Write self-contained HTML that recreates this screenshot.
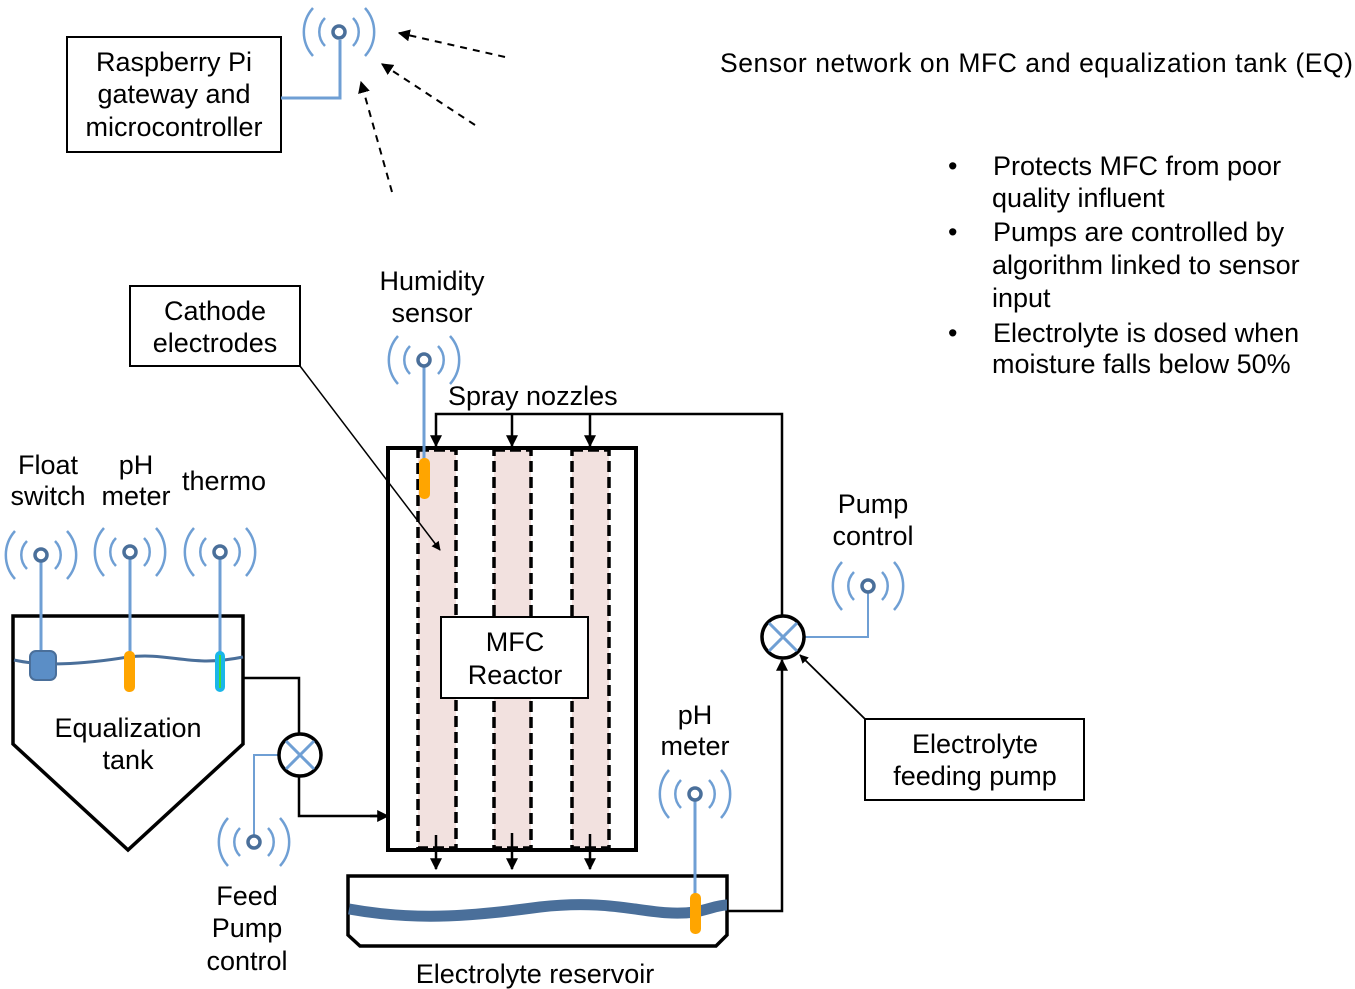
<!DOCTYPE html>
<html><head><meta charset="utf-8"><style>
html,body{margin:0;padding:0;background:#fff;}
svg{display:block;font-family:"Liberation Sans",Arial,sans-serif;}
text{fill:#000;}
</style></head><body>
<svg width="1355" height="989" viewBox="0 0 1355 989" xmlns="http://www.w3.org/2000/svg" font-size="27">
<defs>
<marker id="ah" viewBox="0 0 10 10" refX="9" refY="5" markerWidth="9" markerHeight="9" orient="auto-start-reverse" markerUnits="userSpaceOnUse"><path d="M0,0 L10,5 L0,10 z" fill="#000"/></marker>
<marker id="ah2" viewBox="0 0 10 10" refX="9" refY="5" markerWidth="12" markerHeight="12" orient="auto" markerUnits="userSpaceOnUse"><path d="M0,0 L10,5 L0,10 z" fill="#000"/></marker>
<g id="ant">
<path d="M-14,-14 A20,20 0 0 0 -14,14 M14,-14 A20,20 0 0 1 14,14 M-26,-24 A36,36 0 0 0 -26,24 M26,-24 A36,36 0 0 1 26,24" fill="none" stroke="#6f9fd4" stroke-width="2.5"/>
<circle r="6" fill="#fff" stroke="#4a6f9a" stroke-width="3.5"/>
</g>
</defs>

<!-- Raspberry Pi -->
<rect x="67" y="37" width="214" height="115" fill="#fff" stroke="#000" stroke-width="2"/>
<text x="174" y="71" text-anchor="middle">Raspberry Pi</text>
<text x="174" y="103" text-anchor="middle">gateway and</text>
<text x="174" y="136" text-anchor="middle">microcontroller</text>
<path d="M281,98 H340 V40" fill="none" stroke="#6f9fd4" stroke-width="3"/>
<use href="#ant" x="339" y="32"/>
<g stroke="#000" stroke-width="2" stroke-dasharray="7,6" fill="none">
<line x1="505" y1="57" x2="399" y2="33" marker-end="url(#ah2)"/>
<line x1="475" y1="125" x2="382" y2="64" marker-end="url(#ah2)"/>
<line x1="392" y1="192" x2="361" y2="82" marker-end="url(#ah2)"/>
</g>

<text x="720" y="72" font-size="26.5" textLength="633">Sensor network on MFC and equalization tank (EQ)</text>
<g>
<text x="948" y="175">•</text><text x="993" y="175">Protects MFC from poor</text>
<text x="992" y="207">quality influent</text>
<text x="948" y="241">•</text><text x="993" y="241">Pumps are controlled by</text>
<text x="992" y="274">algorithm linked to sensor</text>
<text x="992" y="307">input</text>
<text x="948" y="342">•</text><text x="993" y="342">Electrolyte is dosed when</text>
<text x="992" y="373">moisture falls below 50%</text>
</g>

<!-- Cathode -->
<rect x="130" y="286" width="170" height="80" fill="#fff" stroke="#000" stroke-width="2"/>
<text x="215" y="320" text-anchor="middle">Cathode</text>
<text x="215" y="352" text-anchor="middle">electrodes</text>

<!-- MFC -->
<rect x="388" y="448" width="248" height="402" fill="#fff" stroke="#000" stroke-width="4"/>
<g fill="#f2e1df" stroke="#000" stroke-width="3.5" stroke-dasharray="11,5">
<rect x="418" y="450" width="38" height="398"/>
<rect x="494" y="450" width="37" height="398"/>
<rect x="572" y="450" width="37" height="398"/>
</g>
<line x1="300" y1="366" x2="440" y2="550" stroke="#000" stroke-width="1.5" marker-end="url(#ah)"/>
<rect x="441" y="617" width="147" height="81" fill="#fff" stroke="#000" stroke-width="2"/>
<text x="515" y="651" text-anchor="middle">MFC</text>
<text x="515" y="684" text-anchor="middle">Reactor</text>

<!-- humidity -->
<text x="432" y="290" text-anchor="middle">Humidity</text>
<text x="432" y="322" text-anchor="middle">sensor</text>
<line x1="424" y1="367" x2="424" y2="460" stroke="#6f9fd4" stroke-width="3"/>
<use href="#ant" x="424" y="360"/>
<rect x="419" y="458" width="11" height="41" rx="5" fill="#ffa500"/>

<!-- spray -->
<text x="448" y="405">Spray nozzles</text>
<path d="M782,615 V414 H436 V446" fill="none" stroke="#000" stroke-width="2.5" marker-end="url(#ah2)"/>
<line x1="512" y1="414" x2="512" y2="446" stroke="#000" stroke-width="2.5" marker-end="url(#ah2)"/>
<line x1="590" y1="414" x2="590" y2="446" stroke="#000" stroke-width="2.5" marker-end="url(#ah2)"/>
<g stroke="#000" stroke-width="2.5">
<line x1="436" y1="835" x2="436" y2="869" marker-end="url(#ah2)"/>
<line x1="512" y1="833" x2="512" y2="869" marker-end="url(#ah2)"/>
<line x1="590" y1="834" x2="590" y2="869" marker-end="url(#ah2)"/>
</g>

<!-- reservoir -->
<path d="M348,876 H727 V935 L716,946 H360 L348,935 Z" fill="#fff" stroke="#000" stroke-width="3.5"/>
<path d="M349,909 C420,922 480,915 540,907 C620,898 650,918 695,912 C710,909 718,905 727,905" fill="none" stroke="#4a6f9a" stroke-width="11"/>
<text x="535" y="983" text-anchor="middle">Electrolyte reservoir</text>
<text x="695" y="724" text-anchor="middle">pH</text>
<text x="695" y="755" text-anchor="middle">meter</text>
<line x1="695" y1="801" x2="695" y2="896" stroke="#6f9fd4" stroke-width="3"/>
<use href="#ant" x="695" y="794"/>
<rect x="690" y="893" width="11" height="41" rx="5" fill="#ffa500"/>
<path d="M727,911 H782 V660" fill="none" stroke="#000" stroke-width="2.5" marker-end="url(#ah2)"/>

<!-- pump right -->
<path d="M804,637 H868 V593" fill="none" stroke="#6f9fd4" stroke-width="2"/>
<use href="#ant" x="868" y="586"/>
<circle cx="783" cy="637" r="21" fill="#fff" stroke="#000" stroke-width="3.5"/>
<path d="M769,623 L797,651 M797,623 L769,651" stroke="#6f9fd4" stroke-width="3"/>
<text x="873" y="513" text-anchor="middle">Pump</text>
<text x="873" y="545" text-anchor="middle">control</text>
<rect x="865" y="719" width="219" height="81" fill="#fff" stroke="#000" stroke-width="2"/>
<text x="975" y="753" text-anchor="middle">Electrolyte</text>
<text x="975" y="785" text-anchor="middle">feeding pump</text>
<line x1="865" y1="719" x2="800" y2="655" stroke="#000" stroke-width="1.8" marker-end="url(#ah)"/>

<!-- EQ tank -->
<text x="48" y="474" text-anchor="middle">Float</text>
<text x="48" y="505" text-anchor="middle">switch</text>
<text x="136" y="474" text-anchor="middle">pH</text>
<text x="136" y="505" text-anchor="middle">meter</text>
<text x="224" y="490" text-anchor="middle">thermo</text>
<path d="M13,616 H243 V744 L128,850 L13,744 Z" fill="#fff" stroke="#000" stroke-width="3.5"/>
<path d="M14,660 C40,666 80,665 128,657 C170,652 190,668 243,657" fill="none" stroke="#4a6f9a" stroke-width="3"/>
<g stroke="#6f9fd4" stroke-width="3">
<line x1="41" y1="562" x2="41" y2="652"/>
<line x1="130" y1="559" x2="130" y2="652"/>
<line x1="220" y1="559" x2="220" y2="652"/>
</g>
<use href="#ant" x="41" y="555"/>
<use href="#ant" x="130" y="552"/>
<use href="#ant" x="220" y="552"/>
<rect x="30" y="651" width="26" height="29" rx="6" fill="#5b8ec6" stroke="#4a6f9a" stroke-width="2"/>
<rect x="124" y="651" width="11" height="41" rx="5" fill="#ffa500"/>
<rect x="215" y="651" width="10" height="41" rx="5" fill="#1ab6e8"/>
<line x1="220" y1="655" x2="220" y2="688" stroke="#3ddc3d" stroke-width="2"/>
<text x="128" y="737" text-anchor="middle">Equalization</text>
<text x="128" y="769" text-anchor="middle">tank</text>

<path d="M243,678 H299 V734 M299,776 V816 H386" fill="none" stroke="#000" stroke-width="2.5"/>
<line x1="370" y1="816" x2="388" y2="816" stroke="#000" stroke-width="2.5" marker-end="url(#ah2)"/>
<path d="M279,755 H254 V835" fill="none" stroke="#6f9fd4" stroke-width="2"/>
<use href="#ant" x="254" y="842"/>
<circle cx="300" cy="755" r="21" fill="#fff" stroke="#000" stroke-width="3.5"/>
<path d="M286,741 L314,769 M314,741 L286,769" stroke="#6f9fd4" stroke-width="3"/>
<text x="247" y="905" text-anchor="middle">Feed</text>
<text x="247" y="937" text-anchor="middle">Pump</text>
<text x="247" y="970" text-anchor="middle">control</text>
</svg>
</body></html>
